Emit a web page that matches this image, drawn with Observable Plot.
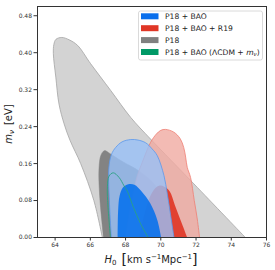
<!DOCTYPE html>
<html>
<head>
<meta charset="utf-8">
<script src="https://cdn.jsdelivr.net/npm/d3@7"></script>
<script src="https://cdn.jsdelivr.net/npm/@observablehq/plot@0.6"></script>
<style>
  html, body { margin: 0; padding: 0; background: #fff; }
  #chart { width: 275px; height: 270px; }
</style>
</head>
<body>
<div id="chart"></div>
<script>
// ---- Data: contour outlines, [H0, m_nu] pairs ----
const xTicks = [64, 66, 68, 70, 72, 74, 76];
const yTicks = [0.00, 0.08, 0.16, 0.24, 0.32, 0.40, 0.48];

const p18_95 = [
  [66.68, 0], [66.2, 0.08], [65.45, 0.16], [64.85, 0.21], [64.51, 0.246],
  [64.22, 0.289], [64.04, 0.347], [63.9, 0.398], [63.93, 0.418], [64.05, 0.429],
  [64.38, 0.433], [64.79, 0.428], [65.27, 0.416], [66.02, 0.376], [67.16, 0.318],
  [68.29, 0.26], [69.42, 0.213], [71.88, 0.116], [74.8, 0]
];
const p18_68 = [
  [66.75, 0], [66.53, 0.09], [66.49, 0.148], [66.6, 0.178], [66.8, 0.188],
  [67.1, 0.182], [67.8, 0.165], [68.8, 0.143], [69.7, 0.112], [70.2, 0.07],
  [70.5, 0.03], [70.6, 0]
];
const r19_95 = [
  [68.0, 0], [68.2, 0.05], [68.4, 0.09], [68.67, 0.134], [68.95, 0.163],
  [69.42, 0.206], [69.75, 0.224], [70.0, 0.232], [70.27, 0.234], [70.74, 0.228],
  [71.1, 0.214], [71.3, 0.195], [71.41, 0.174], [71.5, 0.152], [71.69, 0.13],
  [71.9, 0.08], [72.07, 0.04], [72.2, 0]
];
const r19_68 = [
  [68.77, 0], [69.0, 0.04], [69.3, 0.08], [69.6, 0.103], [69.9, 0.112],
  [70.2, 0.11], [70.5, 0.1], [70.8, 0.07], [71.2, 0.03], [71.5, 0]
];
const bao_95 = [
  [67.19, 0], [67.08, 0.08], [67.05, 0.15], [67.2, 0.18], [67.44, 0.195],
  [67.8, 0.207], [68.29, 0.212], [68.7, 0.211], [69.14, 0.205], [69.5, 0.192],
  [69.8, 0.177], [70.18, 0.134], [70.37, 0.094], [70.55, 0.05], [70.75, 0]
];
const bao_68 = [
  [67.55, 0], [67.58, 0.06], [67.66, 0.09], [67.85, 0.108], [68.15, 0.115],
  [68.5, 0.114], [68.9, 0.1], [69.4, 0.074], [69.8, 0.038], [70.02, 0]
];
const lcdm_95 = [
  [67.14, 0], [66.98, 0.08], [66.97, 0.11], [67.06, 0.133], [67.3, 0.14],
  [67.63, 0.13], [67.91, 0.112], [68.1, 0.1], [68.45, 0.065], [68.85, 0.03],
  [69.28, 0]
];

const legendLabels = ["P18 + BAO", "P18 + BAO + R19", "P18", "P18 + BAO (ΛCDM + m_ν)"];
const legendColors = ["#0a6fec", "#e03626", "#808080", "#009966"];

// ---- Chart ----
const X = d => d[0], Y = d => d[1];
const chart = Plot.plot({
  width: 275,
  height: 270,
  marginLeft: 37,
  marginRight: 9,
  marginTop: 6,
  marginBottom: 33,
  style: { fontFamily: "DejaVu Sans", fontSize: "6px", color: "#333", background: "#fff" },
  x: { domain: [63, 76], label: null },
  y: { domain: [0, 0.5], label: null },
  marks: [
    Plot.line(p18_95, { x: X, y: Y, curve: "catmull-rom", fill: "#d3d3d3", stroke: "#a5a5a5", strokeWidth: 0.8, clip: true }),
    Plot.line(p18_68, { x: X, y: Y, curve: "catmull-rom", fill: "#838383", stroke: "#838383", strokeWidth: 0.5, clip: true }),
    Plot.line(r19_95, { x: X, y: Y, curve: "catmull-rom", fill: "#f0aaa1", fillOpacity: 0.8, stroke: "#ef7f74", strokeWidth: 0.8, clip: true }),
    Plot.line(r19_68, { x: X, y: Y, curve: "catmull-rom", fill: "#e03424", fillOpacity: 0.9, stroke: "none", clip: true }),
    Plot.line(bao_95, { x: X, y: Y, curve: "catmull-rom", fill: "#98c0f7", fillOpacity: 0.8, stroke: "#5a98ec", strokeWidth: 0.8, clip: true }),
    Plot.line(bao_68, { x: X, y: Y, curve: "catmull-rom", fill: "#006FED", fillOpacity: 0.85, stroke: "none", clip: true }),
    Plot.line(lcdm_95, { x: X, y: Y, curve: "catmull-rom", fill: "none", stroke: "#2aa283", strokeWidth: 0.9, clip: true }),
    Plot.axisX({ ticks: xTicks, tickFormat: d => String(d), tickSize: 3.5, tickPadding: 2, fontSize: 6, stroke: "#333" }),
    Plot.axisY({ ticks: yTicks, tickFormat: d3.format(".2f"), tickSize: 3.5, tickPadding: 2, fontSize: 6, stroke: "#333" }),
    Plot.frame({ stroke: "#333", strokeWidth: 1 })
  ]
});
document.getElementById("chart").appendChild(chart);

// ---- Axis titles and legend (rich text) ----
const svg = d3.select(chart);
const NS = "DejaVu Sans";

// x label
const xl = svg.append("text").attr("x", 151).attr("y", 263).attr("text-anchor", "middle")
  .attr("font-family", NS).attr("font-size", 10).attr("fill", "#222");
xl.append("tspan").attr("font-style", "italic").text("H");
xl.append("tspan").attr("font-size", 7).attr("dy", 2).text("0");
xl.append("tspan").attr("dy", -2).text("\u2002");
xl.append("tspan").attr("font-size", 14).attr("dy", 1).text("[");
xl.append("tspan").attr("dy", -1).text("km s");
xl.append("tspan").attr("font-size", 7).attr("dy", -4).text("\u22121");
xl.append("tspan").attr("dy", 4).text("Mpc");
xl.append("tspan").attr("font-size", 7).attr("dy", -4).text("\u22121");
xl.append("tspan").attr("font-size", 14).attr("dy", 5).text("]");

// y label
const yl = svg.append("text").attr("transform", "translate(12,124) rotate(-90)")
  .attr("text-anchor", "middle").attr("font-family", NS).attr("font-size", 10).attr("fill", "#222");
yl.append("tspan").attr("font-style", "italic").text("m");
yl.append("tspan").attr("font-style", "italic").attr("font-size", 7).attr("dy", 2).text("ν");
yl.append("tspan").attr("dy", -2).text("\u2002[eV]");

// legend
const lg = svg.append("g").attr("font-family", NS).attr("font-size", 7.6).attr("fill", "#222")
  .attr("text-anchor", "start");
lg.append("rect").attr("x", 138.5).attr("y", 11).attr("width", 124).attr("height", 49)
  .attr("rx", 2).attr("fill", "#fff").attr("fill-opacity", 0.85).attr("stroke", "#d0d0d0").attr("stroke-width", 0.8);
legendLabels.forEach((lab, i) => {
  const cy = 16.3 + i * 11.9;
  lg.append("rect").attr("x", 141).attr("y", cy - 3).attr("width", 17.5).attr("height", 6).attr("fill", legendColors[i]);
  const t = lg.append("text").attr("x", 165).attr("y", cy + 2.8).attr("text-anchor", "start");
  if (lab.includes("m_ν")) {
    t.append("tspan").text("P18 + BAO (ΛCDM + ");
    t.append("tspan").attr("font-style", "italic").text("m");
    t.append("tspan").attr("font-style", "italic").attr("font-size", 5.5).attr("dy", 1.5).text("ν");
    t.append("tspan").attr("dy", -1.5).text(")");
  } else {
    t.text(lab);
  }
});
</script>
</body>
</html>
